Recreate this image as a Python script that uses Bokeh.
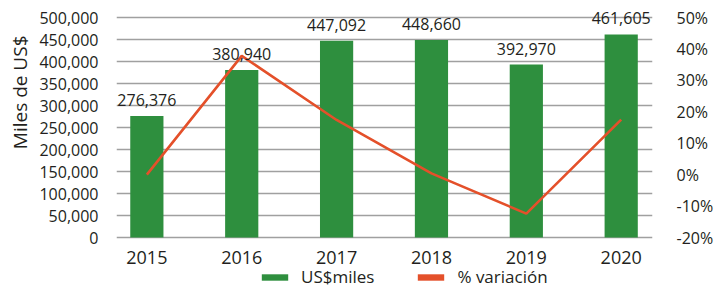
from bokeh.plotting import figure
from bokeh.models import (Range1d, LinearAxis, FixedTicker, NumeralTickFormatter,
                          ColumnDataSource, LabelSet, Legend, LegendItem, Title)
from bokeh.core.properties import value
from bokeh.embed import file_html
from bokeh.resources import INLINE

# ---- data ----
years = ["2015", "2016", "2017", "2018", "2019", "2020"]
values = [276376, 380940, 447092, 448660, 392970, 461605]
pct_change = [0.0, 37.8, 17.4, 0.4, -12.4, 17.5]
left_ticks = [0, 50000, 100000, 150000, 200000, 250000, 300000, 350000, 400000, 450000, 500000]
right_ticks = [-20, -10, 0, 10, 20, 30, 40, 50]

GREEN = "#2E8F3E"
ORANGE = "#E4502A"
TXT = "#231F20"
GRID = "#A0A0A0"
FONT = "Open Sans"

# frame covers the whole height; gridlines span 220px, with 17px above and 51px below
GRID_PX, TOP_PX, BOT_PX = 220, 17, 51
l_lo, l_hi = left_ticks[0], left_ticks[-1]
r_lo, r_hi = right_ticks[0], right_ticks[-1]
l_range = Range1d(l_lo - (l_hi - l_lo) * BOT_PX / GRID_PX, l_hi + (l_hi - l_lo) * TOP_PX / GRID_PX)
r_range = Range1d(r_lo - (r_hi - r_lo) * BOT_PX / GRID_PX, r_hi + (r_hi - r_lo) * TOP_PX / GRID_PX)

idx = list(range(len(years)))
src = ColumnDataSource(dict(x=idx, v=values, p=pct_change,
                            lbl=[f"{v:,}" for v in values]))

p = figure(width=716, height=288, output_backend="svg", toolbar_location=None,
           x_range=Range1d(-0.32, 5.33), y_range=l_range,
           min_border_left=116, min_border_right=54, min_border_top=0,
           min_border_bottom=0)
p.outline_line_color = None
p.background_fill_color = "white"
p.border_fill_color = "white"
p.extra_y_ranges = {"pct": r_range}

# grid
p.xgrid.grid_line_color = None
p.ygrid.grid_line_color = GRID
p.ygrid.grid_line_width = 1.5
p.ygrid.ticker = FixedTicker(ticks=left_ticks)

# x axis drawn at value 0
p.xaxis.fixed_location = 0
p.xaxis.ticker = FixedTicker(ticks=idx)
p.xaxis.major_label_overrides = {i: y for i, y in zip(idx, years)}
p.xaxis.axis_line_color = None
p.xaxis.major_tick_line_color = None
p.xaxis.minor_tick_line_color = None
p.xaxis.major_label_text_font = FONT
p.xaxis.major_label_text_font_size = "18px"
p.xaxis.major_label_text_color = TXT
p.xaxis.major_label_standoff = 7

# left axis
p.yaxis.ticker = FixedTicker(ticks=left_ticks)
p.yaxis.formatter = NumeralTickFormatter(format="0,0")
p.yaxis.axis_line_color = None
p.yaxis.major_tick_line_color = None
p.yaxis.minor_tick_line_color = None
p.yaxis.major_label_text_font = FONT
p.yaxis.major_label_text_font_size = "16px"
p.yaxis.major_label_text_color = TXT
p.yaxis.major_label_standoff = 12

ytitle = Title(text="Miles de US$", align="right", offset=35, text_font=FONT,
               text_font_size="19px", text_font_style="normal", text_color=TXT,
               standoff=8)
p.add_layout(ytitle, "left")

# right axis
ra = LinearAxis(y_range_name="pct", ticker=FixedTicker(ticks=right_ticks))
ra.major_label_overrides = {t: f"{t}%" for t in right_ticks}
ra.axis_line_color = None
ra.major_tick_line_color = None
ra.minor_tick_line_color = None
ra.major_label_text_font = FONT
ra.major_label_text_font_size = "16px"
ra.major_label_text_color = TXT
ra.major_label_standoff = 18
p.add_layout(ra, "right")

# bars
bars = p.vbar(x="x", top="v", width=0.35, source=src, fill_color=GREEN, line_color=None)
# line
ln = p.line(x="x", y="p", source=src, line_color=ORANGE, line_width=2.6, y_range_name="pct")
# zero-width bars: only used for the legend swatch of the line series
sw = p.vbar(x="x", top="p", width=0, source=src, fill_color=ORANGE, line_color=None,
            y_range_name="pct")

labels = LabelSet(x="x", y="v", text="lbl", source=src, text_align="center",
                  text_baseline="bottom", y_offset=10, text_font=value(FONT),
                  text_font_size="16px", text_color=TXT)
p.add_layout(labels)

legend = Legend(items=[LegendItem(label="US$miles", renderers=[bars]),
                       LegendItem(label="% variación", renderers=[sw])],
                orientation="horizontal", location=(142, 0),
                border_line_color=None, background_fill_alpha=0,
                glyph_width=33, glyph_height=8, label_standoff=10, spacing=40,
                padding=0, margin=0, label_height=16,
                label_text_font=FONT, label_text_font_size="17px", label_text_color=TXT)
p.add_layout(legend, "center")

open("out.html", "w").write(file_html(p, INLINE))
